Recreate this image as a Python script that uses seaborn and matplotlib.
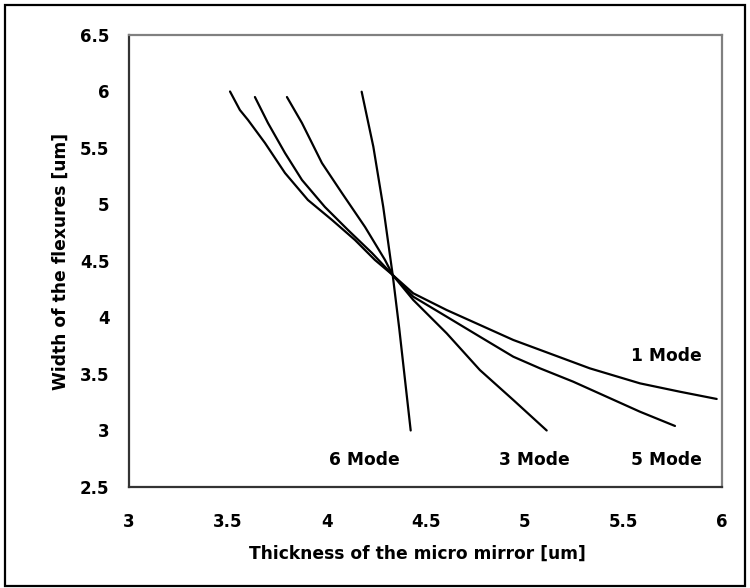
import numpy as np
import pandas as pd
import seaborn as sns
import matplotlib
matplotlib.use("Agg")
import matplotlib.pyplot as plt
from matplotlib.patches import Rectangle

# ---- data ----
mode1_x = [3.511, 3.561, 3.602, 3.688, 3.789, 3.905, 4.027, 4.143, 4.244, 4.334,
           4.438, 4.607, 4.775, 4.944, 5.180, 5.331, 5.585, 5.787, 5.973]
mode1_y = [6.000, 5.836, 5.748, 5.544, 5.279, 5.040, 4.863, 4.686, 4.509, 4.376,
           4.214, 4.066, 3.934, 3.801, 3.648, 3.550, 3.417, 3.343, 3.279]

mode5_x = [3.637, 3.703, 3.789, 3.875, 3.991, 4.108, 4.229, 4.334,
           4.438, 4.607, 4.775, 4.944, 5.079, 5.247, 5.416, 5.585, 5.762]
mode5_y = [5.951, 5.721, 5.456, 5.217, 4.978, 4.774, 4.571, 4.376,
           4.184, 4.007, 3.830, 3.653, 3.550, 3.432, 3.299, 3.166, 3.040]

mode3_x = [3.799, 3.875, 3.976, 4.077, 4.194, 4.295, 4.334,
           4.438, 4.607, 4.775, 4.944, 5.113]
mode3_y = [5.951, 5.721, 5.367, 5.102, 4.801, 4.509, 4.376,
           4.155, 3.860, 3.535, 3.270, 3.000]

mode6_x = [4.177, 4.236, 4.286, 4.334, 4.367, 4.425]
mode6_y = [5.998, 5.512, 4.980, 4.376, 3.904, 3.000]

labels = ["1 Mode", "5 Mode", "3 Mode", "6 Mode"]
label_x = [5.72, 5.72, 5.05, 4.19]
label_y = [3.66, 2.74, 2.74, 2.74]

x_ticks = [3, 3.5, 4, 4.5, 5, 5.5, 6]
y_ticks = [2.5, 3, 3.5, 4, 4.5, 5, 5.5, 6, 6.5]
x_label = "Thickness of the micro mirror [um]"
y_label = "Width of the flexures [um]"

sns.set_theme(style="white")
plt.rcParams["font.family"] = ["DejaVu Sans"]
plt.rcParams["font.weight"] = "bold"
plt.rcParams["text.color"] = "black"
plt.rcParams["axes.labelcolor"] = "black"
plt.rcParams["xtick.color"] = "black"
plt.rcParams["ytick.color"] = "black"

fig = plt.figure(figsize=(7.5, 5.88), dpi=100)
ax = fig.add_axes([0.172, 0.1718, 0.7907, 0.7687])

series = [(mode1_x, mode1_y), (mode5_x, mode5_y), (mode3_x, mode3_y), (mode6_x, mode6_y)]
for xs, ys in series:
    sns.lineplot(x=xs, y=ys, sort=False, color="black", linewidth=1.6, ax=ax,
                 estimator=None)

for lab, lx, ly in zip(labels, label_x, label_y):
    ax.text(lx, ly, lab, ha="center", va="center", fontsize=12.3,
            fontweight="bold", color="black")

ax.set_xlim(3, 6)
ax.set_ylim(2.5, 6.5)
ax.set_xticks(x_ticks)
ax.set_xticklabels([f"{t:g}" for t in x_ticks])
ax.set_yticks(y_ticks)
ax.set_yticklabels([f"{t:g}" for t in y_ticks])
ax.tick_params(axis="both", direction="out", length=5, width=1.2, color="#333333",
               labelsize=12, labelcolor="black")
ax.tick_params(axis="y", pad=9)
ax.tick_params(axis="x", pad=14)
for lab in ax.get_xticklabels() + ax.get_yticklabels():
    lab.set_fontweight("bold")

ax.set_xlabel(x_label, fontsize=12.3, fontweight="bold", color="black")
ax.set_ylabel(y_label, fontsize=12.3, fontweight="bold", color="black")
ax.xaxis.set_label_coords(0.487, -0.128)
ax.yaxis.set_label_coords(-0.100, 0.5)

for side in ["left", "bottom"]:
    ax.spines[side].set_color("#333333")
    ax.spines[side].set_linewidth(1.6)
for side in ["top", "right"]:
    ax.spines[side].set_color("#808080")
    ax.spines[side].set_linewidth(1.6)
ax.spines["top"].set_visible(True)
ax.spines["right"].set_visible(True)
ax.grid(False)

fig.patches.append(Rectangle((5 / 750, 1 - 586 / 588), 740 / 750, 581 / 588,
                             transform=fig.transFigure, fill=False,
                             edgecolor="black", linewidth=1.6))

fig.savefig("out.png", dpi=100)
